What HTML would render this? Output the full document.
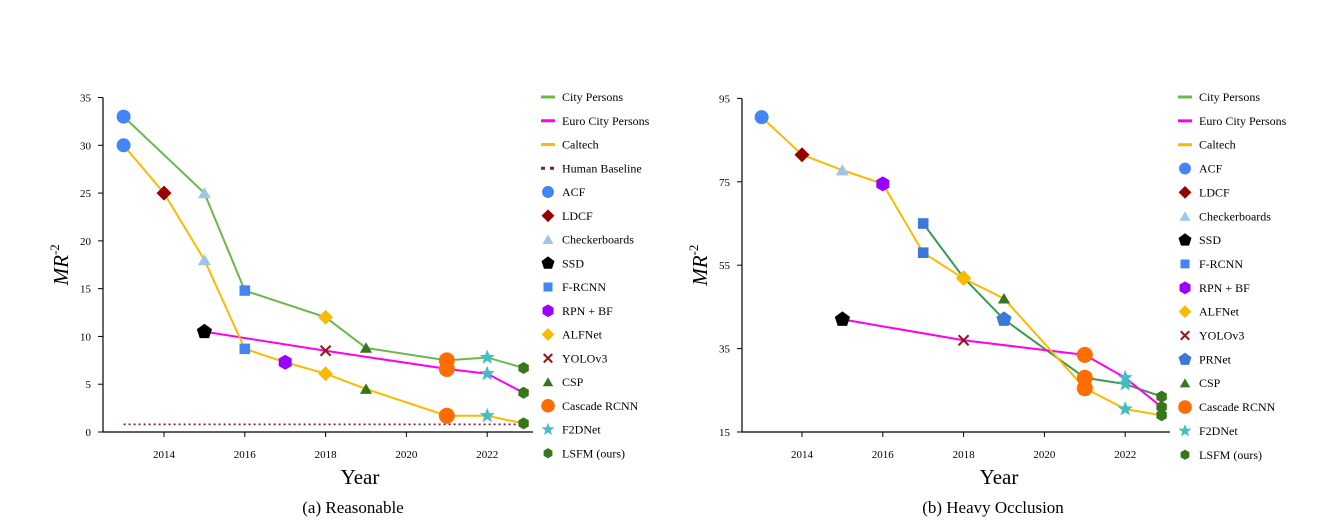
<!DOCTYPE html>
<html><head><meta charset="utf-8"><style>
body{margin:0;background:#fff;}
svg{display:block;font-family:"Liberation Serif",serif;}
</style></head><body>
<svg id="svg" width="1336" height="521" xmlns="http://www.w3.org/2000/svg"></svg>
<script>
// ---- Chart A data (Reasonable) ----
const aCityX=[2013,2015,2016,2018,2019,2021,2022,2022.9];
const aCityY=[33,25,14.8,12,8.8,7.5,7.8,6.7];
const aCityM=['acf','cb','frcnn','alf','csp','casc','f2d','lsfm'];
const aEuroX=[2015,2018,2021,2022,2022.9];
const aEuroY=[10.5,8.5,6.6,6.1,4.1];
const aEuroM=['ssd','yolo','casc','f2d','lsfm'];
const aCalX=[2013,2014,2015,2016,2017,2018,2019,2021,2022,2022.9];
const aCalY=[30,25,18,8.7,7.3,6.1,4.5,1.7,1.7,0.9];
const aCalM=['acf','ldcf','cb','frcnn','rpn','alf','csp','casc','f2d','lsfm'];
const aHuman=0.8;
const aTicks=[0,5,10,15,20,25,30,35];
// ---- Chart B data (Heavy Occlusion) ----
const bCityX=[2017,2018,2019,2021,2022,2022.9];
const bCityY=[65,52,42,28,26.5,23.5];
const bCityM=['frcnn2','alf','prnet','casc','f2d','lsfm'];
const bEuroX=[2015,2018,2021,2022,2022.9];
const bEuroY=[42,37,33.5,28,21];
const bEuroM=['ssd','yolo','casc','f2d','lsfm'];
const bCalX=[2013,2014,2015,2016,2017,2018,2019,2021,2022,2022.9];
const bCalY=[90.5,81.5,77.8,74.5,58,51.8,47,25.5,20.5,19];
const bCalM=['acf','ldcf','cb','rpn','frcnn2','alf','csp','casc','f2d','lsfm'];
const bTicks=[15,35,55,75,95];
const xTicks=[2014,2016,2018,2020,2022];
const legA=[['City Persons','l','#6ab84a'],['Euro City Persons','l','#ff00ee'],['Caltech','l','#fbb900'],['Human Baseline','d','#7a1f45'],['ACF','acf'],['LDCF','ldcf'],['Checkerboards','cb'],['SSD','ssd'],['F-RCNN','frcnn'],['RPN + BF','rpn'],['ALFNet','alf'],['YOLOv3','yolo'],['CSP','csp'],['Cascade RCNN','casc'],['F2DNet','f2d'],['LSFM (ours)','lsfm']];
const legB=[['City Persons','l','#6ab84a'],['Euro City Persons','l','#ff00ee'],['Caltech','l','#fbb900'],['ACF','acf'],['LDCF','ldcf'],['Checkerboards','cb'],['SSD','ssd'],['F-RCNN','frcnn'],['RPN + BF','rpn'],['ALFNet','alf'],['YOLOv3','yolo'],['PRNet','prnet'],['CSP','csp'],['Cascade RCNN','casc'],['F2DNet','f2d'],['LSFM (ours)','lsfm']];

const NS='http://www.w3.org/2000/svg';
const svg=document.getElementById('svg');
function mk(tag,attrs,parent){const e=document.createElementNS(NS,tag);for(const k in attrs)e.setAttribute(k,attrs[k]);(parent||svg).appendChild(e);return e;}
const MS={acf:['circle','#4285f4',7],ldcf:['diamond','#990000',7.5],cb:['tri','#9fc5e8',7.5],ssd:['pent','#000',8],frcnn:['square','#4285f4',6.5],frcnn2:['square','#3c78d8',6.5],rpn:['hex','#9900ff',7.5],alf:['diamond','#fbb900',7.5],yolo:['x','#8b1a1a',5],csp:['tri','#38761d',7],casc:['circle','#ff6d01',8],f2d:['star','#46bdc6',8],lsfm:['hex','#38761d',6],prnet:['pent','#3c78d8',8]};
function poly(n,r,rot){const p=[];for(let i=0;i<n;i++){const a=rot+i*2*Math.PI/n;p.push([r*Math.cos(a),r*Math.sin(a)]);}return p;}
function marker(key,x,y,g,scale){
  const [s,c,r0]=MS[key];const r=r0*(scale||1);let pts;
  if(s==='circle'){const e=mk('circle',{cx:x,cy:y,r:r,fill:c},g);return e;}
  if(s==='x'){const e=mk('path',{d:`M${x-r},${y-r}L${x+r},${y+r}M${x-r},${y+r}L${x+r},${y-r}`,stroke:c,'stroke-width':2},g);return e;}
  if(s==='diamond')pts=poly(4,r,-Math.PI/2);
  if(s==='square')pts=poly(4,r*1.15,Math.PI/4);
  if(s==='tri'){pts=poly(3,r,-Math.PI/2).map(p=>[p[0],p[1]+r*0.2]);}
  if(s==='pent')pts=poly(5,r,-Math.PI/2);
  if(s==='hex')pts=poly(6,r,-Math.PI/2);
  if(s==='star'){pts=[];for(let i=0;i<10;i++){const a=-Math.PI/2+i*Math.PI/5;const rr=i%2?r*0.42:r;pts.push([rr*Math.cos(a),rr*Math.sin(a)]);}}
  return mk('polygon',{points:pts.map(p=>(x+p[0]).toFixed(1)+','+(y+p[1]).toFixed(1)).join(' '),fill:c},g);
}
function chart(cfg){
  const g=mk('g',{});
  
  
  const X=v=>cfg.x0+(v-2014)*cfg.px;
  const Y=v=>cfg.yb-(v-cfg.ymin)*cfg.py;
  const ax=mk('path',{d:`M${cfg.ax},${Y(cfg.ticks[cfg.ticks.length-1])}L${cfg.ax},${cfg.yb}L${cfg.xend},${cfg.yb}`,stroke:'#000','stroke-width':1.2,fill:'none'},g);
  
  
  cfg.ticks.forEach(t=>{
    mk('line',{x1:cfg.ax-5,x2:cfg.ax,y1:Y(t),y2:Y(t),stroke:'#000'},g);
    const tx=mk('text',{x:cfg.ax-12,y:Y(t)+4,'font-size':11,'text-anchor':'end'},g);tx.textContent=t;
    
    
  });
  xTicks.forEach(t=>{
    mk('line',{x1:X(t),x2:X(t),y1:cfg.yb,y2:cfg.yb+5,stroke:'#000'},g);
    const tx=mk('text',{x:X(t),y:cfg.yb+26,'font-size':11,'text-anchor':'middle'},g);tx.textContent=t;
    
    
  });
  const yt=mk('text',{transform:`translate(${cfg.ax-35},${(Y(cfg.ticks[cfg.ticks.length-1])+cfg.yb)/2}) rotate(-90)`,'font-size':21,'font-style':'italic','text-anchor':'middle'},g);
  yt.innerHTML='MR<tspan dy="-9" font-size="13" font-style="normal">-2</tspan>';
  
  
  const xt=mk('text',{x:cfg.xc,y:484,'font-size':21,'text-anchor':'middle'},g);xt.textContent='Year';
  
  
  const cap=mk('text',{x:cfg.capx,y:513,'font-size':17,'text-anchor':'middle'},g);cap.textContent=cfg.caption;
  
  
  if(cfg.human!==undefined){
    const h=mk('line',{x1:X(2013),x2:X(2022.9),y1:Y(cfg.human),y2:Y(cfg.human),stroke:'#7a1f45','stroke-width':1.8,'stroke-dasharray':'2,3'},g);
    
    
  }
  cfg.series.forEach(s=>{
    const pl=mk('polyline',{points:s.x.map((v,i)=>X(v)+','+Y(s.y[i])).join(' '),fill:'none',stroke:s.c,'stroke-width':2},g);
    
    
  });
  cfg.series.forEach(s=>{
    s.x.forEach((v,i)=>{
      const m=marker(s.m[i],X(v),Y(s.y[i]),g);
      
      
    });
  });
  cfg.leg.forEach((L,i)=>{
    const y=cfg.ly+i*cfg.ls;const lg=mk('g',{},g);
    
    
    const mx=cfg.lx;
    if(L[1]==='l')mk('line',{x1:mx-7,x2:mx+7,y1:y,y2:y,stroke:L[2],'stroke-width':3},lg);
    else if(L[1]==='d')mk('line',{x1:mx-7,x2:mx+7,y1:y,y2:y,stroke:L[2],'stroke-width':3,'stroke-dasharray':'4,5'},lg);
    else marker(L[1],mx,y,lg,0.85);
    const t=mk('text',{x:mx+14,y:y+4,'font-size':12},lg);t.textContent=L[0];
  });
}
chart({name:'chart-reasonable',x0:164,px:40.4,yb:432,ymin:0,py:9.557,ax:103,xend:533,ticks:aTicks,xc:360,capx:353,caption:'(a) Reasonable',human:aHuman,
  series:[{n:'city-persons',c:'#6ab84a',x:aCityX,y:aCityY,m:aCityM},{n:'euro-city-persons',c:'#ff00ee',x:aEuroX,y:aEuroY,m:aEuroM},{n:'caltech',c:'#fbb900',x:aCalX,y:aCalY,m:aCalM}],
  leg:legA,lx:548,ly:97,ls:23.75});
chart({name:'chart-heavy-occlusion',x0:802,px:40.4,yb:432,ymin:15,py:4.17,ax:742,xend:1170,ticks:bTicks,xc:999,capx:993,caption:'(b) Heavy Occlusion',
  series:[{n:'city-persons',c:'#3a9a50',x:bCityX,y:bCityY,m:bCityM},{n:'euro-city-persons',c:'#ff00ee',x:bEuroX,y:bEuroY,m:bEuroM},{n:'caltech',c:'#fbb900',x:bCalX,y:bCalY,m:bCalM}],
  leg:legB,lx:1185,ly:97,ls:23.85});
</script>
</body></html>
